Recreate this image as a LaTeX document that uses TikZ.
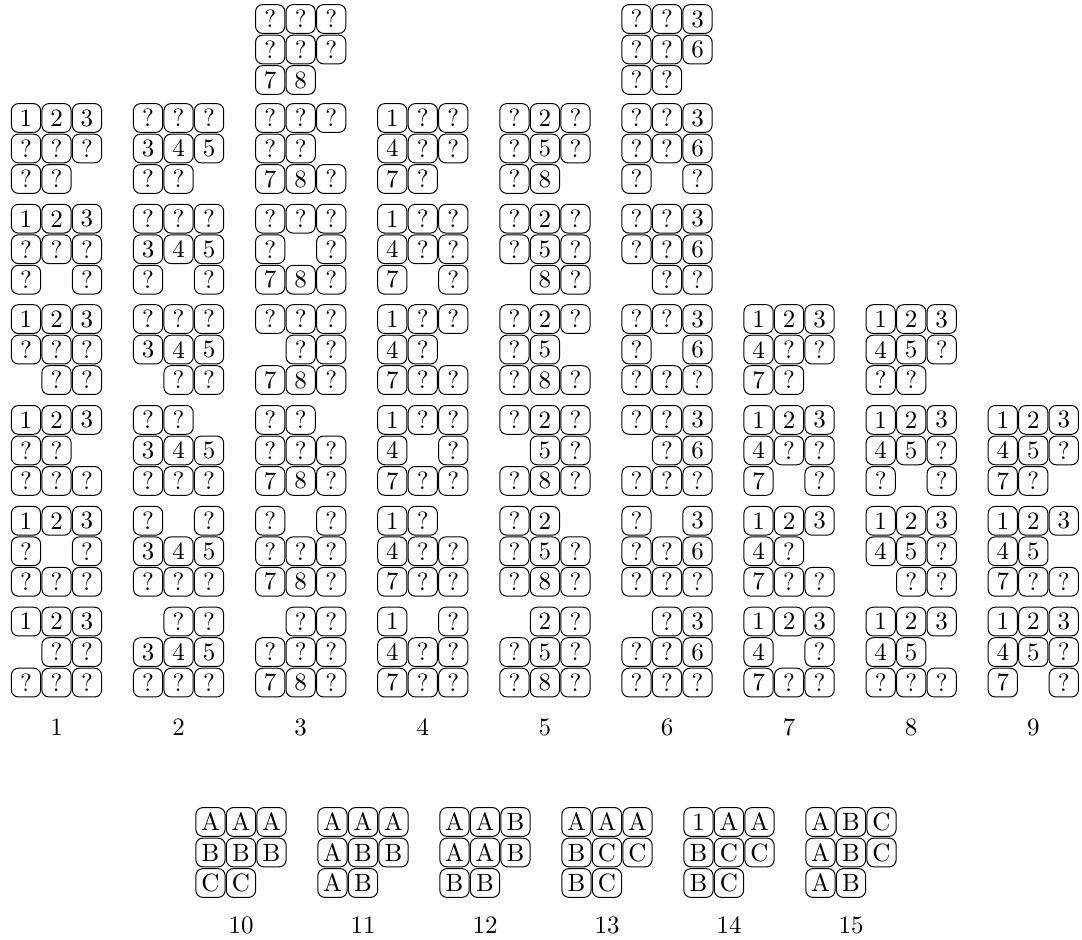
\documentclass[tikz,border=0pt]{standalone}
\usepackage{amsmath, amssymb}

\tikzset{
  tile/.style={draw, rounded corners=2.8pt, line width=0.4pt,
    minimum width=11.7pt, minimum height=11.5pt, inner sep=0pt}
}
\def\gap{x}
% #1 name, #2 x of middle column, #3 y of top row, #4 nine cells (x = empty)
\newcommand{\puzzle}[4]{%
  \foreach \t [count=\i from 0] in {#4} {%
    \pgfmathtruncatemacro{\cc}{mod(\i,3)}%
    \pgfmathtruncatemacro{\rr}{\i/3}%
    \edef\cell{\t}%
    \ifx\cell\gap\else
      \node[tile] (#1-\i) at ({#2+(\cc-1)*30.5},{#3+\rr*30.5}) {\t};
    \fi
  }%
}

\begin{document}
\begin{tikzpicture}[x=0.4pt, y=-0.4pt]
    \useasboundingbox (0,0) rectangle (1082,940);
    % ---- Column 1
    \puzzle{p1-2}{56.5}{118.0}{1,2,3,?,?,?,?,?,x}
    \puzzle{p1-3}{56.5}{218.7}{1,2,3,?,?,?,?,x,?}
    \puzzle{p1-4}{56.5}{319.1}{1,2,3,?,?,?,x,?,?}
    \puzzle{p1-5}{56.5}{419.9}{1,2,3,?,?,x,?,?,?}
    \puzzle{p1-6}{56.5}{520.8}{1,2,3,?,x,?,?,?,?}
    \puzzle{p1-7}{56.5}{621.6}{1,2,3,x,?,?,?,?,?}
    % ---- Column 2
    \puzzle{p2-2}{178.6}{118.0}{?,?,?,3,4,5,?,?,x}
    \puzzle{p2-3}{178.6}{218.7}{?,?,?,3,4,5,?,x,?}
    \puzzle{p2-4}{178.6}{319.1}{?,?,?,3,4,5,x,?,?}
    \puzzle{p2-5}{178.6}{419.9}{?,?,x,3,4,5,?,?,?}
    \puzzle{p2-6}{178.6}{520.8}{?,x,?,3,4,5,?,?,?}
    \puzzle{p2-7}{178.6}{621.6}{x,?,?,3,4,5,?,?,?}
    % ---- Column 3
    \puzzle{p3-1}{300.7}{19.0}{?,?,?,?,?,?,7,8,x}
    \puzzle{p3-2}{300.7}{118.0}{?,?,?,?,?,x,7,8,?}
    \puzzle{p3-3}{300.7}{218.7}{?,?,?,?,x,?,7,8,?}
    \puzzle{p3-4}{300.7}{319.1}{?,?,?,x,?,?,7,8,?}
    \puzzle{p3-5}{300.7}{419.9}{?,?,x,?,?,?,7,8,?}
    \puzzle{p3-6}{300.7}{520.8}{?,x,?,?,?,?,7,8,?}
    \puzzle{p3-7}{300.7}{621.6}{x,?,?,?,?,?,7,8,?}
    % ---- Column 4
    \puzzle{p4-2}{422.8}{118.0}{1,?,?,4,?,?,7,?,x}
    \puzzle{p4-3}{422.8}{218.7}{1,?,?,4,?,?,7,x,?}
    \puzzle{p4-4}{422.8}{319.1}{1,?,?,4,?,x,7,?,?}
    \puzzle{p4-5}{422.8}{419.9}{1,?,?,4,x,?,7,?,?}
    \puzzle{p4-6}{422.8}{520.8}{1,?,x,4,?,?,7,?,?}
    \puzzle{p4-7}{422.8}{621.6}{1,x,?,4,?,?,7,?,?}
    % ---- Column 5
    \puzzle{p5-2}{544.9}{118.0}{?,2,?,?,5,?,?,8,x}
    \puzzle{p5-3}{544.9}{218.7}{?,2,?,?,5,?,x,8,?}
    \puzzle{p5-4}{544.9}{319.1}{?,2,?,?,5,x,?,8,?}
    \puzzle{p5-5}{544.9}{419.9}{?,2,?,x,5,?,?,8,?}
    \puzzle{p5-6}{544.9}{520.8}{?,2,x,?,5,?,?,8,?}
    \puzzle{p5-7}{544.9}{621.6}{x,2,?,?,5,?,?,8,?}
    % ---- Column 6
    \puzzle{p6-1}{667.0}{19.0}{?,?,3,?,?,6,?,?,x}
    \puzzle{p6-2}{667.0}{118.0}{?,?,3,?,?,6,?,x,?}
    \puzzle{p6-3}{667.0}{218.7}{?,?,3,?,?,6,x,?,?}
    \puzzle{p6-4}{667.0}{319.1}{?,?,3,?,x,6,?,?,?}
    \puzzle{p6-5}{667.0}{419.9}{?,?,3,x,?,6,?,?,?}
    \puzzle{p6-6}{667.0}{520.8}{?,x,3,?,?,6,?,?,?}
    \puzzle{p6-7}{667.0}{621.6}{x,?,3,?,?,6,?,?,?}
    % ---- Column 7
    \puzzle{p7-4}{789.1}{319.1}{1,2,3,4,?,?,7,?,x}
    \puzzle{p7-5}{789.1}{419.9}{1,2,3,4,?,?,7,x,?}
    \puzzle{p7-6}{789.1}{520.8}{1,2,3,4,?,x,7,?,?}
    \puzzle{p7-7}{789.1}{621.6}{1,2,3,4,x,?,7,?,?}
    % ---- Column 8
    \puzzle{p8-4}{911.2}{319.1}{1,2,3,4,5,?,?,?,x}
    \puzzle{p8-5}{911.2}{419.9}{1,2,3,4,5,?,?,x,?}
    \puzzle{p8-6}{911.2}{520.8}{1,2,3,4,5,?,x,?,?}
    \puzzle{p8-7}{911.2}{621.6}{1,2,3,4,5,x,?,?,?}
    % ---- Column 9
    \puzzle{p9-5}{1033.3}{419.9}{1,2,3,4,5,?,7,?,x}
    \puzzle{p9-6}{1033.3}{520.8}{1,2,3,4,5,x,7,?,?}
    \puzzle{p9-7}{1033.3}{621.6}{1,2,3,4,5,?,7,x,?}
    % ---- Column numbers
    \foreach \c [count=\n] in {56.5,178.6,300.7,422.8,544.9,667.0,789.1,911.2,1033.3}
      \node (num\n) at (\c,727) {\n};
    % ---- Bottom row: coloured patterns
    \puzzle{p10}{241}{822}{A,A,A,B,B,B,C,C,x}
    \puzzle{p11}{363}{822}{A,A,A,A,B,B,A,B,x}
    \puzzle{p12}{485}{822}{A,A,B,A,A,B,B,B,x}
    \puzzle{p13}{607}{822}{A,A,A,B,C,C,B,C,x}
    \puzzle{p14}{729}{822}{1,A,A,B,C,C,B,C,x}
    \puzzle{p15}{851}{822}{A,B,C,A,B,C,A,B,x}
    \foreach \c [count=\n from 10] in {241,363,485,607,729,851}
      \node (num\n) at (\c,925) {\n};
\end{tikzpicture}
\end{document}
